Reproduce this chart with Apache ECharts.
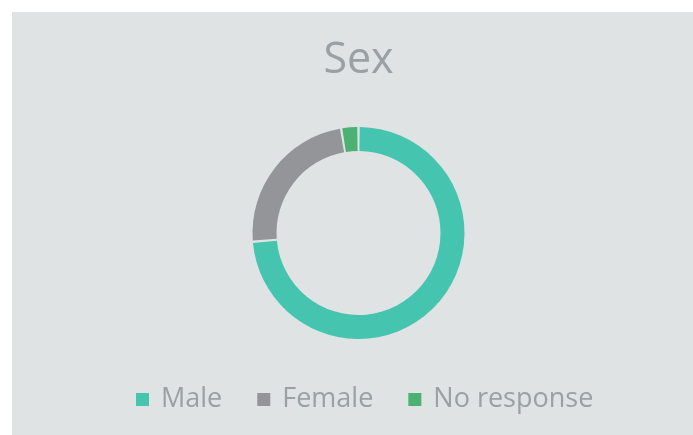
<!DOCTYPE html>
<html>
<head>
<meta charset="utf-8">
<script src="https://cdn.jsdelivr.net/npm/echarts@6/dist/echarts.min.js"></script>
<style>
  html, body { margin: 0; padding: 0; background: #ffffff; }
  #chart { position: absolute; left: 12px; top: 12px; width: 681px; height: 423px; }
</style>
</head>
<body>
<div id="chart"></div>
<script>
// data
var categories = ['Male', 'Female', 'No response'];
var counts = [28, 9, 1];
var colors = ['#45c4b0', '#939598', '#4cb172'];

var chart = echarts.init(document.getElementById('chart'), null, { renderer: 'canvas' });

var option = {
  backgroundColor: '#dfe3e3',
  color: colors,
  title: {
    text: 'Sex',
    left: 346.5,
    textAlign: 'center',
    top: 27,
    padding: 0,
    textStyle: {
      fontFamily: 'Open Sans',
      fontSize: 43,
      fontWeight: 'normal',
      color: '#9aa1a4'
    }
  },
  legend: {
    data: categories,
    left: 124,
    bottom: 22,
    padding: 0,
    icon: 'rect',
    itemWidth: 13,
    itemHeight: 13,
    itemGap: 35,
    textStyle: {
      fontFamily: 'Open Sans',
      fontSize: 27,
      color: '#9aa1a4',
      padding: [0, 0, 0, 7]
    }
  },
  series: [
    {
      type: 'pie',
      center: [346.5, 221],
      radius: [82, 106],
      startAngle: 90,
      clockwise: true,
      padAngle: 1.3,
      avoidLabelOverlap: false,
      label: { show: false },
      labelLine: { show: false },
      itemStyle: {
        borderWidth: 0
      },
      emphasis: { disabled: true },
      data: categories.map(function (name, i) {
        return { name: name, value: counts[i] };
      })
    }
  ]
};

chart.setOption(option);
</script>
</body>
</html>
